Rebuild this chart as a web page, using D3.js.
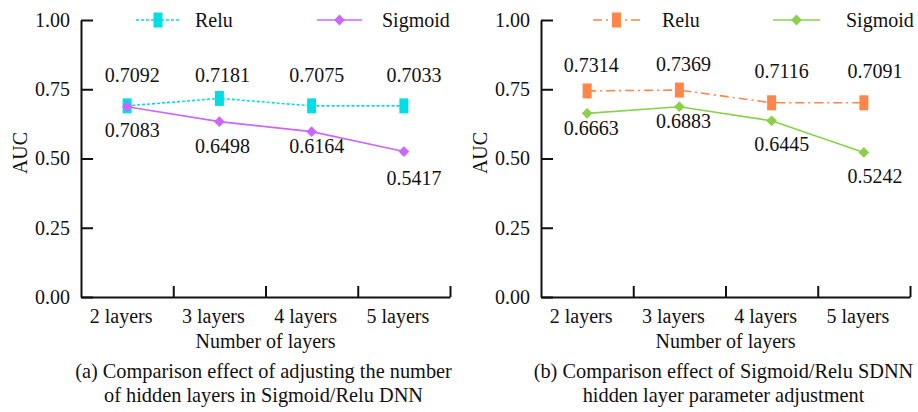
<!DOCTYPE html>
<html>
<head>
<meta charset="utf-8">
<script src="https://cdn.jsdelivr.net/npm/d3@7"></script>
<style>
  body { margin: 0; background: #fff; }
  text { font-family: "Liberation Serif", "Times New Roman", serif; fill: #111; }
</style>
</head>
<body>
<div id="chart"></div>
<script>
// data
const layers = ["2 layers", "3 layers", "4 layers", "5 layers"];
const yTicks = [0, 0.25, 0.5, 0.75, 1.0];

// panel (a): plotted values and printed labels
const reluA = [0.690, 0.717, 0.690, 0.690];
const sigmoidA = [0.687, 0.633, 0.597, 0.525];
const reluLabelsA = ["0.7092", "0.7181", "0.7075", "0.7033"];
const sigmoidLabelsA = ["0.7083", "0.6498", "0.6164", "0.5417"];

// panel (b)
const reluB = [0.744, 0.747, 0.701, 0.701];
const sigmoidB = [0.663, 0.687, 0.636, 0.522];
const reluLabelsB = ["0.7314", "0.7369", "0.7116", "0.7091"];
const sigmoidLabelsB = ["0.6663", "0.6883", "0.6445", "0.5242"];

const captionA = ["(a) Comparison effect of adjusting the number", "of hidden layers in Sigmoid/Relu DNN"];
const captionB = ["(b) Comparison effect of Sigmoid/Relu SDNN", "hidden layer parameter adjustment"];

const svgWidth = 918, svgHeight = 412;
const svg = d3.select("#chart").append("svg")
  .attr("width", svgWidth)
  .attr("height", svgHeight);

// plot area inside each panel
const plotLeft = 81, plotRight = 450, plotTop = 20, plotBottom = 297;
const captionWidth = 377; // first caption line spans this many px in the reference

const x = d3.scaleBand().domain(layers).range([plotLeft, plotRight]);
const xEdges = d3.scaleLinear().domain([0, layers.length]).range([plotLeft, plotRight]);
const y = d3.scaleLinear().domain([0, 1]).range([plotBottom, plotTop]);
const cx = d => x(d) + x.bandwidth() / 2;

const panels = [
  {
    offset: 0,
    caption: captionA,
    series: [
      {name: "Relu", values: reluA, labels: reluLabelsA, color: "#00dde6", dash: "3,2", marker: "rect",
       dx: [5, 3, 5, 10], dy: [-24, -16, -24, -24], legend: {x1: 136, x2: 180, text: 195}},
      {name: "Sigmoid", values: sigmoidA, labels: sigmoidLabelsA, color: "#cc66ff", dash: null, marker: "diamond",
       dx: [5, 3, 5, 10], dy: [30, 31, 21, 33], legend: {x1: 317, x2: 362, text: 382}}
    ]
  },
  {
    offset: 460,
    caption: captionB,
    series: [
      {name: "Relu", values: reluB, labels: reluLabelsB, color: "#ff8548", dash: "9,4,2,4", marker: "rect",
       dx: [4, 4, 10, 11], dy: [-19, -19, -25, -25], legend: {x1: 133, x2: 180, text: 202}},
      {name: "Sigmoid", values: sigmoidB, labels: sigmoidLabelsB, color: "#8bd04b", dash: null, marker: "diamond",
       dx: [4, 4, 10, 11], dy: [22, 21, 30, 31], legend: {x1: 313, x2: 360, text: 386}}
    ]
  }
];

function drawMarker(sel, type, color) {
  if (type === "rect") {
    sel.append("rect")
      .attr("x", -4.5).attr("y", -7.5)
      .attr("width", 9).attr("height", 15)
      .attr("fill", color);
  } else {
    sel.append("path")
      .attr("d", d3.symbol(d3.symbolSquare, 58)())
      .attr("transform", "rotate(45)")
      .attr("fill", color);
  }
}

const captionTexts = [];

panels.forEach(p => {
  const g = svg.append("g").attr("transform", `translate(${p.offset},0)`);

  // y axis, ticks pointing inward
  const yAxis = g.append("g")
    .attr("transform", `translate(${plotLeft},0)`)
    .call(d3.axisLeft(y).tickValues(yTicks).tickFormat(d3.format(".2f")).tickSizeInner(-12).tickSizeOuter(0).tickPadding(11));
  yAxis.selectAll("text").style("font-size", "20px");

  // x axis: ticks at band edges, labels in the bands
  const xAxis = g.append("g")
    .attr("transform", `translate(0,${plotBottom})`)
    .call(d3.axisBottom(xEdges).tickValues([1, 2, 3, 4]).tickFormat("").tickSizeInner(-11).tickSizeOuter(0));

  [yAxis, xAxis].forEach(a => {
    a.attr("font-family", null);
    a.select(".domain").attr("stroke", "#111").attr("stroke-width", 2);
    a.selectAll(".tick line").attr("stroke", "#111").attr("stroke-width", 2);
  });

  g.selectAll(".xlabel")
    .data(layers)
    .enter()
    .append("text")
    .attr("class", "xlabel")
    .attr("x", d => cx(d) - 6)
    .attr("y", 323)
    .attr("text-anchor", "middle")
    .style("font-size", "20px")
    .text(d => d);

  g.append("text")
    .attr("x", (plotLeft + plotRight) / 2)
    .attr("y", 348)
    .attr("text-anchor", "middle")
    .style("font-size", "20px")
    .text("Number of layers");

  g.append("text")
    .attr("transform", `translate(27,153) rotate(-90)`)
    .attr("text-anchor", "middle")
    .style("font-size", "20px")
    .text("AUC");

  const cap = g.selectAll(".caption")
    .data(p.caption)
    .enter()
    .append("text")
    .attr("class", "caption")
    .attr("x", (plotLeft + plotRight) / 2 - 2)
    .attr("y", (d, i) => 378 + i * 24)
    .attr("text-anchor", "middle")
    .style("font-size", "20px")
    .text(d => d);
  captionTexts.push(cap);

  p.series.forEach(s => {
    const pts = layers.map((d, i) => ({cat: d, v: s.values[i], label: s.labels[i], dx: s.dx[i], dy: s.dy[i]}));

    g.append("path")
      .datum(pts)
      .attr("fill", "none")
      .attr("stroke", s.color)
      .attr("stroke-width", 1.6)
      .attr("stroke-dasharray", s.dash)
      .attr("d", d3.line().x(d => cx(d.cat)).y(d => y(d.v)));

    g.selectAll(null)
      .data(pts)
      .enter()
      .append("g")
      .attr("transform", d => `translate(${cx(d.cat)},${y(d.v)})`)
      .each(function() { drawMarker(d3.select(this), s.marker, s.color); });

    g.selectAll(null)
      .data(pts)
      .enter()
      .append("text")
      .attr("x", d => cx(d.cat) + d.dx)
      .attr("y", d => y(d.v) + d.dy)
      .attr("text-anchor", "middle")
      .style("font-size", "20px")
      .text(d => d.label);

    // legend
    g.append("line")
      .attr("x1", s.legend.x1).attr("x2", s.legend.x2)
      .attr("y1", 20).attr("y2", 20)
      .attr("stroke", s.color)
      .attr("stroke-width", 1.6)
      .attr("stroke-dasharray", s.dash);
    const lm = g.append("g").attr("transform", `translate(${(s.legend.x1 + s.legend.x2) / 2},20)`);
    drawMarker(lm, s.marker, s.color);
    g.append("text")
      .attr("x", s.legend.text)
      .attr("y", 27)
      .style("font-size", "20px")
      .text(s.name);
  });
});

// size the captions so the first line matches the reference width
const measured = captionTexts[0].node().getComputedTextLength();
const capSize = Math.min(22, Math.max(18, 20 * captionWidth / measured));
captionTexts.forEach(c => c.style("font-size", capSize + "px"));
</script>
</body>
</html>
